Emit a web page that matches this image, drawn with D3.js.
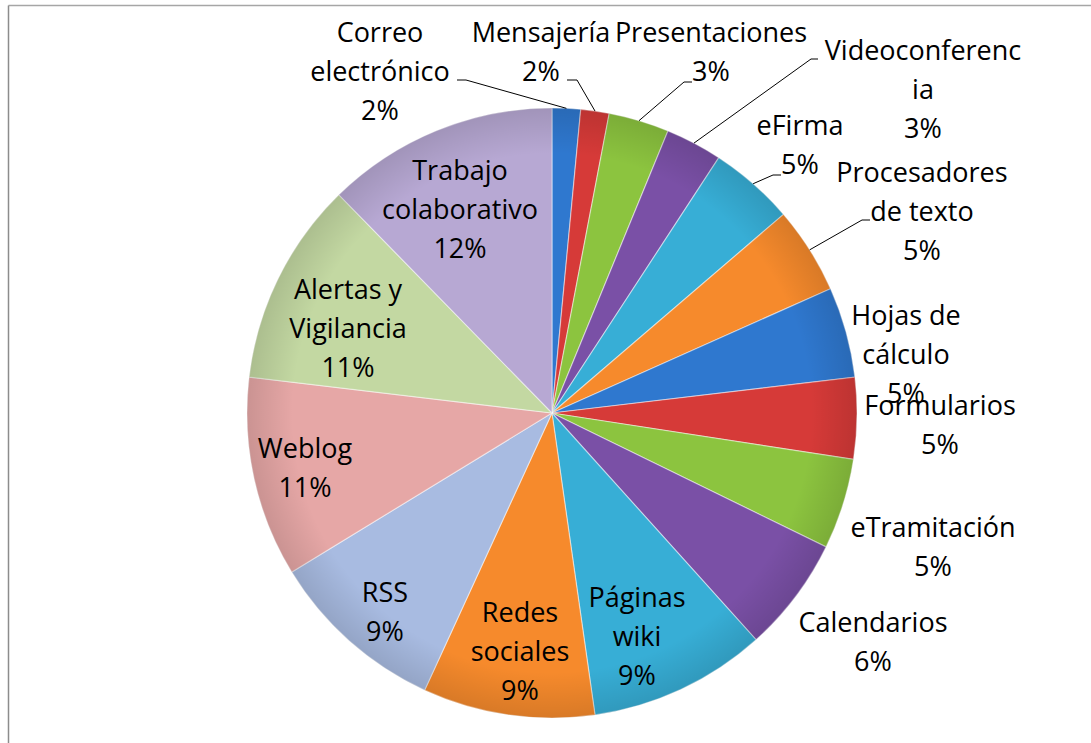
<!DOCTYPE html>
<html>
<head>
    <meta charset="utf-8">
    <title>pie-herramientas</title>
    <style>
body { margin: 0; background: #fff; }
.lbl { font-family: "Open Sans", "DejaVu Sans", sans-serif; font-size: 27px; fill: #000; }
.leader { fill: none; stroke: #000; stroke-width: 1; }
    </style>
</head>
<body>
<script src="https://cdn.jsdelivr.net/npm/d3@7/dist/d3.min.js"></script>
<script>
// categories, clockwise from 12 o'clock
var categories = ["Correo electrónico", "Mensajería", "Presentaciones", "Videoconferencia",
    "eFirma", "Procesadores de texto", "Hojas de cálculo", "Formularios", "eTramitación",
    "Calendarios", "Páginas wiki", "Redes sociales", "RSS", "Weblog",
    "Alertas y Vigilancia", "Trabajo colaborativo"];
// shares
var values = [1.5, 1.5, 3.2, 3.0, 4.5, 4.6, 4.8, 4.3, 4.8, 6.1, 9.4, 9.1, 9.4, 10.6, 10.8, 12.3];
// percentages as printed on the chart
var pctLabels = ["2%", "2%", "3%", "3%", "5%", "5%", "5%", "5%", "5%", "6%", "9%", "9%", "9%", "11%", "11%", "12%"];

var colors = ["#2f78cf", "#d63a38", "#8cc43f", "#7a50a6", "#37aed6", "#f68a2c",
              "#2f78cf", "#d63a38", "#8cc43f", "#7a50a6", "#37aed6", "#f68a2c",
              "#a8bbe1", "#e6a7a6", "#c3d8a2", "#b7a8d3"];

// label layout: wrapped lines, centre x, first baseline, optional leader elbow [x, y, end x]
var layout = [
    { lines: ["Correo", "electrónico"], x: 380, y: 42, elbow: [466, 80, 457] },
    { lines: ["Mensajería"], x: 541, y: 42, elbow: [577, 80, 567] },
    { lines: ["Presentaciones"], x: 711, y: 42, elbow: [684, 82, 692] },
    { lines: ["Videoconferenc", "ia"], x: 923, y: 60, elbow: [811, 59, 818] },
    { lines: ["eFirma"], x: 800, y: 135, elbow: [773, 175, 781] },
    { lines: ["Procesadores", "de texto"], x: 922, y: 182, elbow: [862, 220, 870] },
    { lines: ["Hojas de", "cálculo"], x: 906, y: 325 },
    { lines: ["Formularios"], x: 940, y: 415 },
    { lines: ["eTramitación"], x: 933, y: 537 },
    { lines: ["Calendarios"], x: 873, y: 632 },
    { lines: ["Páginas", "wiki"], x: 637, y: 607 },
    { lines: ["Redes", "sociales"], x: 520, y: 622 },
    { lines: ["RSS"], x: 385, y: 602 },
    { lines: ["Weblog"], x: 305, y: 458 },
    { lines: ["Alertas y", "Vigilancia"], x: 348, y: 299 },
    { lines: ["Trabajo", "colaborativo"], x: 460, y: 180 }
];

var totalWidth = 1091, totalHeight = 743;
var cx = 552, cy = 413, radius = 305, lineGap = 38.8;

var data = categories.map(function (c, i) {
    return { name: c, value: values[i], pct: pctLabels[i], color: colors[i], lay: layout[i] };
});

var svg = d3.select("body").append("svg")
    .attr("width", totalWidth)
    .attr("height", totalHeight);

// chart frame (only top and left edges are visible)
svg.append("line").attr("x1", 8.5).attr("y1", 5.5).attr("x2", totalWidth).attr("y2", 5.5)
    .attr("stroke", "#a6a6a6").attr("stroke-width", 1.5);
svg.append("line").attr("x1", 8.5).attr("y1", 5.5).attr("x2", 8.5).attr("y2", totalHeight)
    .attr("stroke", "#8c8c8c").attr("stroke-width", 1.5);

var pie = d3.pie().sort(null).value(function (d) { return d.value; });
var arc = d3.arc().innerRadius(0).outerRadius(radius);
var arcs = pie(data);

// soft rim shading, like the bevelled Excel style
var defs = svg.append("defs");
var grad = defs.append("radialGradient").attr("id", "rim")
    .attr("gradientUnits", "userSpaceOnUse")
    .attr("cx", cx).attr("cy", cy).attr("r", radius);
grad.append("stop").attr("offset", "0.85").attr("stop-color", "#000").attr("stop-opacity", 0);
grad.append("stop").attr("offset", "1").attr("stop-color", "#000").attr("stop-opacity", 0.12);

var g = svg.append("g").attr("transform", "translate(" + cx + "," + cy + ")");

g.selectAll(".slice")
    .data(arcs)
    .enter().append("path")
    .attr("class", "slice")
    .attr("d", arc)
    .attr("fill", function (d) { return d.data.color; })
    .attr("stroke", "rgba(255,255,255,0.45)")
    .attr("stroke-width", 1.2);

svg.append("circle").attr("cx", cx).attr("cy", cy).attr("r", radius)
    .attr("fill", "url(#rim)").attr("pointer-events", "none");

// leader lines from the rim at the slice's mid angle to the label elbow
function rimPoint(d) {
    var a = (d.startAngle + d.endAngle) / 2;
    return [cx + radius * Math.sin(a), cy - radius * Math.cos(a)];
}

svg.selectAll(".leader")
    .data(arcs.filter(function (d) { return d.data.lay.elbow; }))
    .enter().append("polyline")
    .attr("class", "leader")
    .attr("points", function (d) {
        var p = rimPoint(d), e = d.data.lay.elbow;
        return [p, [e[0], e[1]], [e[2], e[1]]].map(function (q) { return q.join(","); }).join(" ");
    });

// labels: category lines followed by the percentage
var labels = svg.selectAll(".lbl")
    .data(arcs)
    .enter().append("text")
    .attr("class", "lbl")
    .attr("text-anchor", "middle");

labels.each(function (d) {
    var t = d3.select(this);
    var lines = d.data.lay.lines.concat([d.data.pct]);
    lines.forEach(function (s, i) {
        t.append("tspan")
            .attr("x", d.data.lay.x)
            .attr("y", d.data.lay.y + i * lineGap)
            .text(s);
    });
});
</script>
</body>
</html>
